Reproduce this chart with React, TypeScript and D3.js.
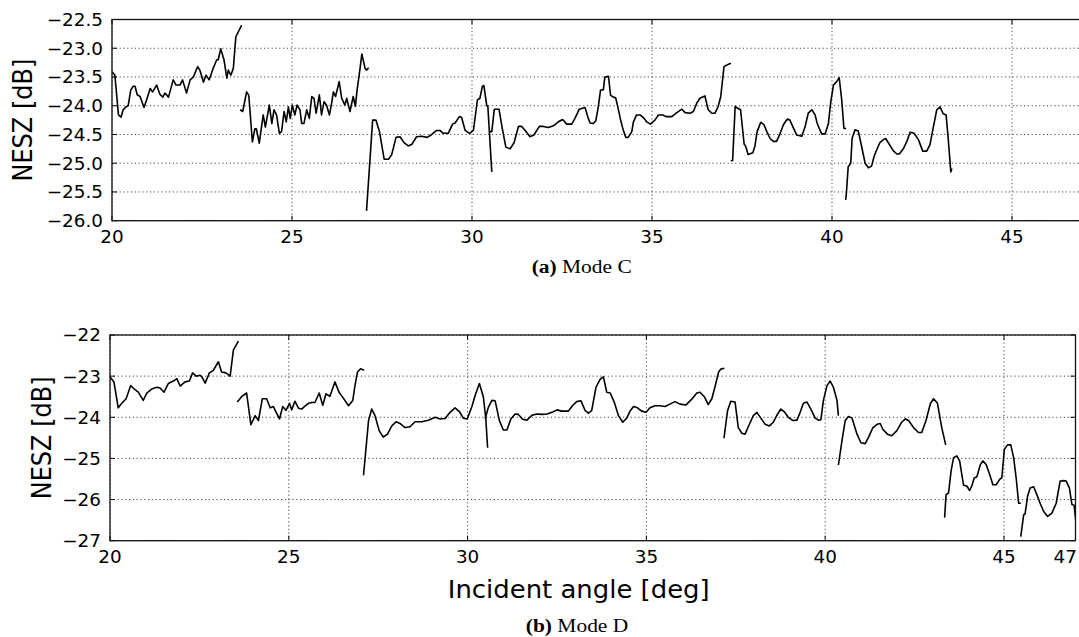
import React from "react";
import * as d3 from "d3";

type Pt = [number, number];

// ---------- Mode C (panel a) ----------
const modeC1: Pt[] = [[20.0,-23.41],[20.08,-23.47],[20.18,-24.16],[20.25,-24.2],[20.31,-24.07],[20.39,-24.02],[20.45,-24.0],[20.52,-23.73],[20.59,-23.66],[20.64,-23.66],[20.7,-23.81],[20.78,-23.84],[20.89,-24.03],[20.96,-23.9],[21.06,-23.7],[21.13,-23.76],[21.24,-23.64],[21.33,-23.8],[21.41,-23.85],[21.47,-23.78],[21.57,-23.85],[21.7,-23.55],[21.78,-23.64],[21.89,-23.64],[21.96,-23.55],[22.07,-23.78],[22.17,-23.55],[22.26,-23.5],[22.38,-23.32],[22.44,-23.38],[22.54,-23.59],[22.61,-23.47],[22.7,-23.55],[22.81,-23.35],[22.91,-23.2],[22.95,-23.2],[23.02,-23.01],[23.11,-23.2],[23.19,-23.52],[23.23,-23.38],[23.3,-23.47],[23.37,-23.35],[23.44,-22.8],[23.56,-22.65],[23.6,-22.6]];
const modeC2: Pt[] = [[23.56,-24.07],[23.63,-24.1],[23.74,-23.76],[23.8,-23.82],[23.9,-24.63],[23.97,-24.4],[24.01,-24.4],[24.09,-24.65],[24.2,-24.16],[24.26,-24.37],[24.37,-23.99],[24.44,-24.31],[24.5,-24.07],[24.57,-24.16],[24.65,-24.48],[24.71,-24.45],[24.78,-24.1],[24.84,-24.28],[24.9,-24.02],[24.95,-24.22],[25.01,-23.99],[25.08,-24.16],[25.14,-23.99],[25.22,-24.07],[25.27,-24.31],[25.33,-24.31],[25.41,-24.07],[25.48,-24.22],[25.55,-23.84],[25.61,-23.87],[25.67,-24.13],[25.76,-23.81],[25.82,-24.16],[25.89,-23.93],[25.96,-23.99],[26.04,-24.16],[26.1,-23.96],[26.15,-23.76],[26.21,-23.84],[26.31,-23.58],[26.38,-23.87],[26.47,-23.99],[26.52,-23.87],[26.61,-24.1],[26.7,-23.84],[26.76,-24.01],[26.81,-23.72],[26.89,-23.35],[26.94,-23.1],[27.03,-23.35],[27.07,-23.38],[27.13,-23.34]];
const modeC3: Pt[] = [[27.07,-25.83],[27.24,-24.25],[27.33,-24.25],[27.43,-24.45],[27.56,-24.93],[27.68,-24.93],[27.77,-24.85],[27.89,-24.55],[28.0,-24.54],[28.11,-24.64],[28.23,-24.7],[28.33,-24.67],[28.46,-24.54],[28.6,-24.53],[28.76,-24.55],[28.88,-24.5],[29.02,-24.43],[29.11,-24.43],[29.2,-24.48],[29.34,-24.48],[29.46,-24.32],[29.53,-24.3],[29.65,-24.19],[29.71,-24.2],[29.81,-24.43],[29.93,-24.48],[30.04,-24.43],[30.15,-23.9],[30.22,-23.87],[30.29,-23.66],[30.33,-23.65],[30.41,-24.0],[30.44,-24.01],[30.55,-25.15]];
const modeC4: Pt[] = [[30.47,-24.45],[30.55,-24.45],[30.62,-24.06],[30.75,-24.06],[30.84,-24.39],[30.94,-24.72],[31.06,-24.75],[31.17,-24.64],[31.29,-24.36],[31.38,-24.36],[31.5,-24.45],[31.61,-24.54],[31.72,-24.51],[31.87,-24.36],[31.98,-24.36],[32.12,-24.38],[32.26,-24.35],[32.4,-24.28],[32.52,-24.24],[32.63,-24.32],[32.77,-24.32],[32.86,-24.22],[32.98,-24.06],[33.14,-24.03],[33.23,-24.22],[33.28,-24.3],[33.37,-24.31],[33.44,-24.26],[33.51,-24.01],[33.57,-23.73],[33.65,-23.72],[33.69,-23.5],[33.79,-23.49],[33.85,-23.82],[33.93,-23.85],[33.99,-23.86],[34.06,-24.05],[34.14,-24.28],[34.2,-24.42],[34.27,-24.55],[34.34,-24.55],[34.44,-24.45],[34.48,-24.29],[34.57,-24.16],[34.67,-24.16],[34.78,-24.22],[34.85,-24.28],[34.96,-24.32],[35.08,-24.25],[35.18,-24.16],[35.3,-24.16],[35.39,-24.19],[35.55,-24.19],[35.69,-24.12],[35.83,-24.06],[35.92,-24.12],[36.06,-24.13],[36.15,-24.1],[36.24,-23.96],[36.33,-23.87],[36.47,-23.83],[36.56,-24.07],[36.66,-24.13],[36.75,-24.13],[36.84,-24.01],[36.91,-23.84],[37.0,-23.32],[37.08,-23.29],[37.19,-23.26]];
const modeC5: Pt[] = [[37.19,-24.96],[37.24,-24.95],[37.31,-24.01],[37.37,-24.04],[37.46,-24.07],[37.56,-24.67],[37.6,-24.7],[37.67,-24.85],[37.8,-24.82],[37.86,-24.7],[37.92,-24.45],[38.02,-24.29],[38.11,-24.33],[38.19,-24.45],[38.28,-24.57],[38.37,-24.62],[38.46,-24.62],[38.56,-24.48],[38.65,-24.33],[38.76,-24.23],[38.83,-24.25],[38.93,-24.39],[39.02,-24.51],[39.16,-24.53],[39.25,-24.37],[39.34,-24.13],[39.44,-24.07],[39.53,-24.16],[39.59,-24.31],[39.71,-24.49],[39.81,-24.49],[39.9,-24.31],[39.96,-23.96],[40.04,-23.64],[40.13,-23.58],[40.2,-23.51],[40.27,-23.9],[40.33,-24.39],[40.39,-24.4]];
const modeC6: Pt[] = [[40.38,-25.64],[40.4,-25.52],[40.45,-25.06],[40.52,-25.0],[40.56,-24.56],[40.64,-24.42],[40.73,-24.44],[40.82,-24.7],[40.92,-25.0],[41.01,-25.08],[41.1,-25.05],[41.17,-24.88],[41.24,-24.77],[41.33,-24.64],[41.43,-24.59],[41.49,-24.57],[41.59,-24.67],[41.7,-24.78],[41.8,-24.84],[41.87,-24.84],[41.98,-24.75],[42.08,-24.62],[42.17,-24.46],[42.28,-24.48],[42.4,-24.59],[42.52,-24.79],[42.63,-24.79],[42.72,-24.68],[42.81,-24.39],[42.91,-24.07],[43.0,-24.02],[43.09,-24.14],[43.17,-24.16],[43.23,-24.59],[43.3,-25.15],[43.33,-25.09]];

// ---------- Mode D (panel b) ----------
const modeD1: Pt[] = [[20.0,-23.02],[20.11,-23.14],[20.23,-23.77],[20.33,-23.66],[20.45,-23.55],[20.58,-23.23],[20.7,-23.33],[20.79,-23.39],[20.93,-23.59],[21.03,-23.41],[21.17,-23.31],[21.31,-23.27],[21.4,-23.29],[21.51,-23.39],[21.63,-23.18],[21.77,-23.12],[21.87,-23.06],[21.96,-23.24],[22.1,-23.14],[22.22,-23.12],[22.31,-22.92],[22.41,-23.0],[22.52,-22.98],[22.57,-23.02],[22.66,-23.17],[22.78,-22.92],[22.89,-22.86],[23.03,-22.65],[23.12,-22.9],[23.24,-22.92],[23.36,-23.0],[23.45,-22.37],[23.59,-22.15]];
const modeD2: Pt[] = [[23.56,-23.63],[23.68,-23.5],[23.82,-23.41],[23.94,-24.18],[24.06,-23.96],[24.15,-24.08],[24.26,-23.55],[24.38,-23.55],[24.48,-23.77],[24.57,-23.74],[24.64,-23.87],[24.74,-24.04],[24.83,-23.74],[24.92,-23.83],[25.02,-23.66],[25.08,-23.82],[25.17,-23.61],[25.27,-23.78],[25.36,-23.8],[25.45,-23.73],[25.55,-23.66],[25.64,-23.64],[25.73,-23.64],[25.85,-23.41],[25.95,-23.71],[26.04,-23.43],[26.15,-23.49],[26.29,-23.14],[26.41,-23.4],[26.53,-23.54],[26.67,-23.72],[26.79,-23.59],[26.85,-23.23],[26.92,-22.9],[27.01,-22.82],[27.11,-22.86]];
const modeD3: Pt[] = [[27.09,-25.41],[27.23,-24.08],[27.32,-23.8],[27.41,-23.96],[27.53,-24.33],[27.64,-24.48],[27.76,-24.41],[27.88,-24.21],[28.0,-24.11],[28.11,-24.15],[28.25,-24.25],[28.39,-24.23],[28.53,-24.11],[28.72,-24.11],[28.9,-24.07],[29.09,-24.0],[29.23,-24.04],[29.37,-24.03],[29.51,-23.88],[29.65,-23.77],[29.77,-23.86],[29.88,-24.02],[29.99,-24.04],[30.12,-23.74],[30.21,-23.47],[30.33,-23.18],[30.44,-23.5],[30.51,-24.04],[30.56,-24.74]];
const modeD4: Pt[] = [[30.49,-24.04],[30.58,-23.76],[30.68,-23.59],[30.77,-23.6],[30.89,-24.08],[31.0,-24.31],[31.1,-24.31],[31.21,-24.04],[31.33,-23.92],[31.42,-23.93],[31.54,-24.05],[31.66,-24.07],[31.8,-23.95],[31.94,-23.92],[32.08,-23.93],[32.22,-23.92],[32.36,-23.88],[32.5,-23.82],[32.63,-23.85],[32.82,-23.85],[32.93,-23.72],[33.05,-23.62],[33.17,-23.6],[33.29,-23.84],[33.38,-23.9],[33.47,-23.84],[33.59,-23.27],[33.71,-23.07],[33.8,-23.02],[33.89,-23.39],[33.99,-23.41],[34.1,-23.63],[34.22,-23.96],[34.34,-24.12],[34.45,-24.02],[34.55,-23.84],[34.64,-23.74],[34.75,-23.77],[34.87,-23.85],[34.99,-23.88],[35.1,-23.77],[35.24,-23.72],[35.38,-23.72],[35.52,-23.74],[35.66,-23.68],[35.8,-23.62],[35.94,-23.68],[36.11,-23.7],[36.27,-23.56],[36.41,-23.41],[36.5,-23.39],[36.62,-23.5],[36.73,-23.69],[36.83,-23.55],[36.92,-23.25],[37.02,-22.9],[37.08,-22.83],[37.18,-22.81]];
const modeD5: Pt[] = [[37.17,-24.51],[37.27,-23.84],[37.36,-23.61],[37.48,-23.63],[37.57,-24.25],[37.67,-24.39],[37.76,-24.41],[37.88,-24.17],[37.99,-23.96],[38.09,-23.88],[38.2,-24.02],[38.32,-24.17],[38.44,-24.21],[38.55,-24.12],[38.67,-23.92],[38.76,-23.8],[38.85,-23.86],[38.97,-24.0],[39.1,-24.08],[39.21,-24.07],[39.3,-23.88],[39.39,-23.66],[39.49,-23.63],[39.6,-23.8],[39.72,-24.02],[39.81,-24.07],[39.88,-24.06],[39.95,-23.59],[40.05,-23.23],[40.14,-23.12],[40.23,-23.27],[40.33,-23.59],[40.37,-23.96]];
const modeD6: Pt[] = [[40.37,-25.16],[40.47,-24.57],[40.56,-24.08],[40.65,-23.98],[40.75,-24.02],[40.89,-24.41],[41.0,-24.62],[41.12,-24.64],[41.21,-24.49],[41.33,-24.26],[41.45,-24.17],[41.54,-24.15],[41.61,-24.29],[41.74,-24.41],[41.86,-24.45],[42.0,-24.33],[42.14,-24.12],[42.24,-24.04],[42.33,-24.08],[42.47,-24.25],[42.61,-24.37],[42.7,-24.37],[42.82,-24.08],[42.94,-23.67],[43.03,-23.55],[43.14,-23.66],[43.26,-24.25],[43.37,-24.67]];
const modeD7: Pt[] = [[43.34,-26.44],[43.38,-25.88],[43.45,-25.84],[43.52,-25.31],[43.59,-24.98],[43.68,-24.94],[43.76,-25.06],[43.82,-25.39],[43.87,-25.65],[43.96,-25.67],[44.04,-25.78],[44.1,-25.67],[44.17,-25.47],[44.24,-25.45],[44.34,-25.15],[44.41,-25.06],[44.5,-25.15],[44.6,-25.39],[44.69,-25.64],[44.78,-25.64],[44.88,-25.51],[44.94,-25.47],[45.01,-24.78],[45.1,-24.67],[45.19,-24.67],[45.27,-24.98],[45.34,-25.47],[45.41,-26.09],[45.47,-26.09]];
const modeD8: Pt[] = [[45.47,-26.9],[45.55,-26.37],[45.59,-26.35],[45.66,-25.92],[45.73,-25.72],[45.83,-25.69],[45.92,-25.88],[46.01,-26.09],[46.11,-26.29],[46.22,-26.41],[46.34,-26.33],[46.46,-26.09],[46.57,-25.55],[46.67,-25.54],[46.74,-25.55],[46.83,-25.72],[46.9,-26.12],[46.96,-26.14],[47.02,-26.6],[47.1,-26.6]];

const xDomain: [number, number] = [20, 47];
const xTicksA = [20, 25, 30, 35, 40, 45];
const xTicksB = [20, 25, 30, 35, 40, 45, 47];
const yTicksA = [-26.0, -25.5, -25.0, -24.5, -24.0, -23.5, -23.0, -22.5];
const yTicksB = [-27, -26, -25, -24, -23, -22];

const yLabel = "NESZ [dB]";
const xLabel = "Incident angle [deg]";

const SANS = "DejaVu Sans";
const SERIF = "Liberation Serif, Times New Roman, serif";
const SVG_W = 1079;

const fixMinus = (s: string) => s.replace(/-/g, "\u2212");

interface PanelProps {
  id: string;
  left: number; right: number; top: number; bottom: number;
  yDomain: [number, number];
  xTicks: number[];
  yTicks: number[];
  yFmt: (v: number) => string;
  segments: Pt[][];
  yLabelX: number;
}

function Panel(p: PanelProps) {
  const x = d3.scaleLinear().domain(xDomain).range([p.left, p.right]);
  const y = d3.scaleLinear().domain(p.yDomain).range([p.bottom, p.top]);
  const line = d3.line<Pt>().x(d => x(d[0])).y(d => y(d[1]));
  const tick = 5;
  const gridStyle = { stroke: "#333", strokeWidth: 0.9, strokeDasharray: "1.2,2.6" };
  return (
    <g>
      <defs>
        <clipPath id={p.id}>
          <rect x={p.left} y={p.top} width={p.right - p.left} height={p.bottom - p.top} />
        </clipPath>
      </defs>
      {p.xTicks.map(t => (
        <line key={"gx" + t} x1={x(t)} x2={x(t)} y1={p.top} y2={p.bottom} {...gridStyle} />
      ))}
      {p.yTicks.map(t => (
        <line key={"gy" + t} x1={p.left} x2={p.right} y1={y(t)} y2={y(t)} {...gridStyle} />
      ))}
      <g clipPath={`url(#${p.id})`}>
        {p.segments.map((s, i) => (
          <path key={i} d={line(s) || ""} fill="none" stroke="#000" strokeWidth={1.6} strokeLinejoin="round" />
        ))}
      </g>
      {p.xTicks.map(t => (
        <g key={"tx" + t}>
          <line x1={x(t)} x2={x(t)} y1={p.bottom} y2={p.bottom - tick} stroke="#000" strokeWidth={1} />
          <line x1={x(t)} x2={x(t)} y1={p.top} y2={p.top + tick} stroke="#000" strokeWidth={1} />
        </g>
      ))}
      {p.yTicks.map(t => (
        <g key={"ty" + t}>
          <line x1={p.left} x2={p.left + tick} y1={y(t)} y2={y(t)} stroke="#000" strokeWidth={1} />
          <line x1={p.right} x2={p.right - tick} y1={y(t)} y2={y(t)} stroke="#000" strokeWidth={1} />
        </g>
      ))}
      <rect x={p.left} y={p.top} width={p.right - p.left} height={p.bottom - p.top} fill="none" stroke="#111" strokeWidth={1.3} />
      {p.xTicks.map(t => {
        const tx = x(t);
        const nearEdge = tx + 12 > SVG_W;
        return (
          <text key={"lx" + t} transform={`translate(${nearEdge ? SVG_W - 2 : tx},${p.bottom + 22.5}) scale(1.05,1)`}
            textAnchor={nearEdge ? "end" : "middle"} fontFamily={SANS} fontSize={17.5} fill="#000">{fixMinus(String(t))}</text>
        );
      })}
      {p.yTicks.map(t => (
        <text key={"ly" + t} transform={`translate(${p.left - 9},${y(t) + 6.4}) scale(1.05,1)`}
          textAnchor="end" fontFamily={SANS} fontSize={17.5} fill="#000">{fixMinus(p.yFmt(t))}</text>
      ))}
      <text transform={`translate(${p.yLabelX},${(p.top + p.bottom) / 2}) scale(1.12,1) rotate(-90)`}
        textAnchor="middle" fontFamily={SANS} fontSize={24} fill="#000">{yLabel}</text>
    </g>
  );
}

export default function App() {
  const fmtA = d3.format(".1f");
  const fmtB = d3.format("d");
  return (
    <svg width={SVG_W} height={637} style={{ position: "absolute", left: 0, top: 0, background: "#fff" }}
      xmlns="http://www.w3.org/2000/svg">
      <rect x={0} y={0} width={SVG_W} height={637} fill="#fff" />
      <Panel id="clipA" left={112} right={1084} top={19.5} bottom={220.7}
        yDomain={[-26, -22.5]} xTicks={xTicksA} yTicks={yTicksA} yFmt={v => fmtA(v)}
        segments={[modeC1, modeC2, modeC3, modeC4, modeC5, modeC6]} yLabelX={32} />
      <text transform="translate(581.7,273.3) scale(1.1,1)" textAnchor="middle" fontFamily={SERIF} fontSize={19.5} fill="#000">
        <tspan fontWeight="bold">(a)</tspan> Mode C
      </text>
      <Panel id="clipB" left={110} right={1075.5} top={335} bottom={540.7}
        yDomain={[-27, -22]} xTicks={xTicksB} yTicks={yTicksB} yFmt={v => fmtB(v)}
        segments={[modeD1, modeD2, modeD3, modeD4, modeD5, modeD6, modeD7, modeD8]} yLabelX={50.5} />
      <text transform="translate(578.7,598.3) scale(1.08,1)" textAnchor="middle" fontFamily={SANS} fontSize={24} fill="#000">{xLabel}</text>
      <text transform="translate(577,632) scale(1.1,1)" textAnchor="middle" fontFamily={SERIF} fontSize={19.5} fill="#000">
        <tspan fontWeight="bold">(b)</tspan> Mode D
      </text>
    </svg>
  );
}
